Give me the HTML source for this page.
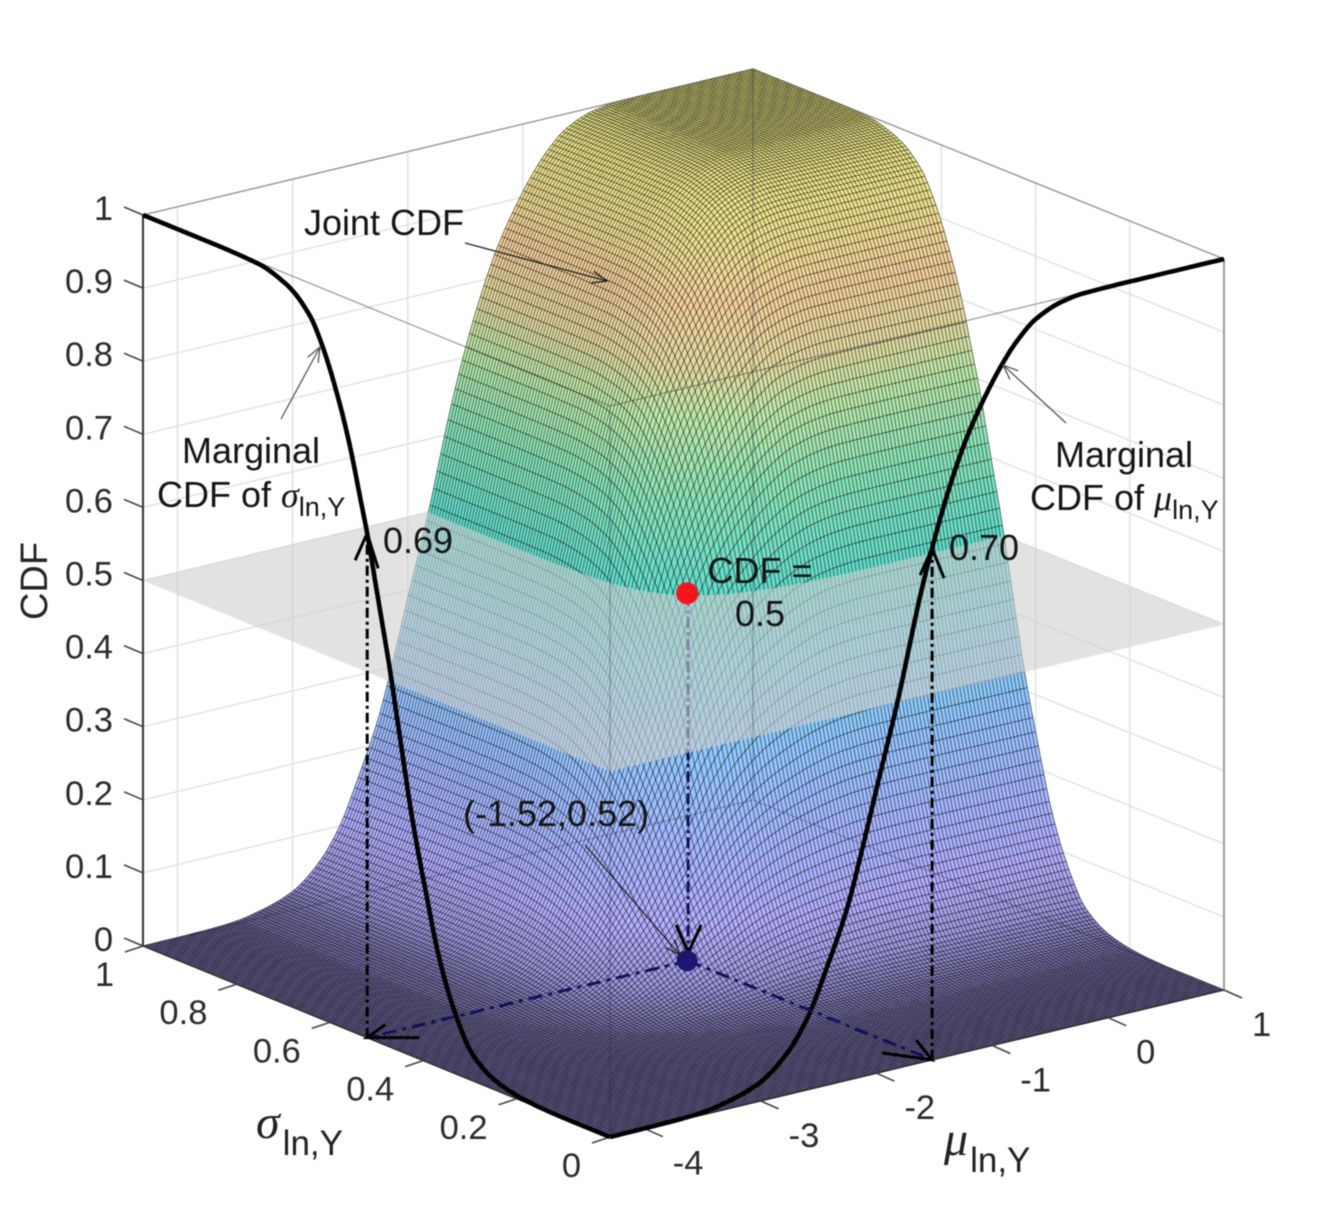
<!DOCTYPE html>
<html lang="en">
<head>
<meta charset="utf-8">
<title>Joint and marginal CDF surface</title>
<style>
html,body{margin:0;padding:0;background:#fff;}
svg{display:block;font-family:"Liberation Sans",sans-serif;filter:blur(0.45px);}
.tick{font-size:34.5px;fill:#2b2b2b;}
.note{font-size:36px;fill:#151515;}
.greek{font-family:"Liberation Serif",serif;font-style:italic;}
</style>
</head>
<body>
<svg id="chart" xmlns="http://www.w3.org/2000/svg" width="1324" height="1229" viewBox="0 0 1324 1229">
  <g id="walls"></g>
  <g id="lower"></g>
  <polygon id="plane" fill="#cfcfcf" fill-opacity="0.6"></polygon>
  <g id="upper"></g>
  <g id="box"></g>
  <g id="axes"></g>
  <g id="curves"></g>
  <g id="guides"></g>

  <text transform="translate(47,581) rotate(-90)" text-anchor="middle" font-size="38" fill="#262626">CDF</text>
  <text x="256" y="1138" fill="#222"><tspan class="greek" font-size="48">σ</tspan><tspan font-size="35" dx="3" dy="17">ln,Y</tspan></text>
  <text x="944" y="1155" fill="#222"><tspan class="greek" font-size="48">μ</tspan><tspan font-size="35" dx="2" dy="17">ln,Y</tspan></text>

  <text class="note" x="304" y="235">Joint CDF</text>
  <text class="note" x="251" y="463" text-anchor="middle">Marginal</text>
  <text class="note" x="157" y="507">CDF of <tspan class="greek">σ</tspan><tspan font-size="27" dy="9">ln,Y</tspan></text>
  <text class="note" x="1124" y="467" text-anchor="middle">Marginal</text>
  <text class="note" x="1030" y="510">CDF of <tspan class="greek">μ</tspan><tspan font-size="27" dy="9">ln,Y</tspan></text>
  <text class="note" x="383" y="553">0.69</text>
  <text class="note" x="949" y="560">0.70</text>
  <text class="note" x="760" y="583" text-anchor="middle">CDF =</text>
  <text class="note" x="760" y="626" text-anchor="middle">0.5</text>
  <text class="note" x="463" y="826">(-1.52,0.52)</text>
</svg>
<script>
// ---- data ----
const muGrid = [-4.3,-3.77,-3.52,-3.29,-3.01,-2.77,-2.59,-2.43,-2.25,-2.12,-1.99,-1.82,-1.62,-1.52,-1.36,-1.22,-1.08,-0.91,-0.79,-0.62,-0.39,-0.22,0.2,1];
const muMarginal = [0,0.001,0.003,0.0096,0.025,0.057,0.1,0.16,0.237,0.313,0.395,0.5,0.64,0.7,0.782,0.84,0.885,0.93,0.955,0.98,0.995,0.999,1,1];
const sigmaGrid = [0,0.1,0.15,0.193,0.242,0.293,0.336,0.368,0.392,0.422,0.45,0.471,0.499,0.52,0.535,0.557,0.585,0.617,0.642,0.692,0.756,0.85,1];
const sigmaMarginal = [0,0.0002,0.0012,0.004,0.012,0.035,0.09,0.155,0.225,0.32,0.43,0.515,0.615,0.69,0.735,0.8,0.865,0.923,0.955,0.985,0.998,1,1];
const muTicks = [-4,-3,-2,-1,0,1];
const sigmaTicks = [0,0.2,0.4,0.6,0.8,1];
const cdfTicks = [0,0.1,0.2,0.3,0.4,0.5,0.6,0.7,0.8,0.9,1];
const muTickLabels = ['-4','-3','-2','-1','0','1'];
const sigmaTickLabels = ['0','0.2','0.4','0.6','0.8','1'];
const cdfTickLabels = ['0','0.1','0.2','0.3','0.4','0.5','0.6','0.7','0.8','0.9','1'];
const medianMu = -1.52;
const medianSigma = 0.52;
const medianCdf = 0.5;
const medianMuMarginal = 0.70;
const medianSigmaMarginal = 0.69;
const dependence = 0.38;
const colorStops = [0,0.04,0.1,0.2,0.3,0.4,0.5,0.62,0.72,0.78,0.85,0.92,1];
const colorValues = ['#7c76ae','#a09ae0','#b4aeff','#a4b8ff','#92c8ff','#78d4ec','#62dccc','#8ae4b8','#c0e8a8','#e4d8a0','#f4cf9c','#eee090','#eeea8a'];

// ---- axis functions ----
const NS = 'http://www.w3.org/2000/svg';
const muMin = -4.3, muMax = 1, sigmaMin = 0, sigmaMax = 1;
const FRONT = [610,1137], RIGHT = [1224,990], LEFT = [143,946], BACK = [753,800], ZH = 731;
function project(mu, sigma, z){
  const a = (mu-muMin)/(muMax-muMin), b = (sigma-sigmaMin)/(sigmaMax-sigmaMin);
  const w0=(1-a)*(1-b), w1=a*(1-b), w2=(1-a)*b, w3=a*b;
  return [w0*FRONT[0]+w1*RIGHT[0]+w2*LEFT[0]+w3*BACK[0],
          w0*FRONT[1]+w1*RIGHT[1]+w2*LEFT[1]+w3*BACK[1]-ZH*z];
}
function pt(p){return p[0].toFixed(1)+' '+p[1].toFixed(1);}
function make(tag, attrs, parent){
  const el=document.createElementNS(NS,tag);
  for(const k in attrs) el.setAttribute(k,attrs[k]);
  parent.appendChild(el);
  return el;
}
function lineD(p,q){return 'M'+pt(p)+'L'+pt(q);}

// monotone cubic through the read-off points
function monotone(xs,ys){
  const n=xs.length,d=[],m=new Array(n);
  for(let i=0;i<n-1;i++) d.push((ys[i+1]-ys[i])/(xs[i+1]-xs[i]));
  m[0]=d[0];m[n-1]=d[n-2];
  for(let i=1;i<n-1;i++){
    if(d[i-1]*d[i]<=0) m[i]=0;
    else {
      const h0=xs[i]-xs[i-1],h1=xs[i+1]-xs[i];
      m[i]=(h0+h1)*3/((2*h1+h0)/d[i-1]+(h1+2*h0)/d[i]);
    }
  }
  return function(x){
    if(x<=xs[0])return ys[0];
    if(x>=xs[n-1])return ys[n-1];
    let i=0;while(x>xs[i+1])i++;
    const h=xs[i+1]-xs[i],t=(x-xs[i])/h,t2=t*t,t3=t2*t;
    return (2*t3-3*t2+1)*ys[i]+(t3-2*t2+t)*h*m[i]+(-2*t3+3*t2)*ys[i+1]+(t3-t2)*h*m[i+1];
  };
}
const Fmu = monotone(muGrid,muMarginal);
const Fsigma = monotone(sigmaGrid,sigmaMarginal);
function joint(mu,sigma){
  const u=Fmu(mu),v=Fsigma(sigma);
  return u*v*(1+dependence*(1-u)*(1-v));
}
function hexToRgb(h){return [1,3,5].map(i=>parseInt(h.substr(i,2),16));}
function colorFor(z){
  let i=0;while(i<colorStops.length-2&&z>colorStops[i+1])i++;
  const t=Math.min(1,Math.max(0,(z-colorStops[i])/(colorStops[i+1]-colorStops[i])));
  const c0=hexToRgb(colorValues[i]),c1=hexToRgb(colorValues[i+1]);
  return 'rgb('+c0.map((c,k)=>Math.round(c+(c1[k]-c)*t)).join(',')+')';
}

// ---- walls ----
const walls=document.getElementById('walls');
let gridD='';
cdfTicks.forEach(z=>{
  gridD+=lineD(project(muMin,sigmaMax,z),project(muMax,sigmaMax,z));
  gridD+=lineD(project(muMax,sigmaMax,z),project(muMax,sigmaMin,z));
});
muTicks.forEach(m=>{
  gridD+=lineD(project(m,sigmaMax,0),project(m,sigmaMax,1));
  gridD+=lineD(project(m,sigmaMin,0),project(m,sigmaMax,0));
});
sigmaTicks.forEach(s=>{
  gridD+=lineD(project(muMax,s,0),project(muMax,s,1));
  gridD+=lineD(project(muMin,s,0),project(muMax,s,0));
});
const gridPath=make('path',{d:gridD,fill:'none',stroke:'#e2e2e2','stroke-width':1.5},walls);



// ---- surface ----
const N=170, LEVELS=128;
const HALF=medianCdf;
const V=[];
for(let i=0;i<=N;i++){
  V.push([]);
  const mu=muMin+(muMax-muMin)*i/N;
  for(let j=0;j<=N;j++){
    const sigma=sigmaMin+(sigmaMax-sigmaMin)*j/N;
    const z=joint(mu,sigma);
    const p=project(mu,sigma,z);
    V[i].push({x:p[0],y:p[1],z:z,s:pt(p)});
  }
}
function cross(a,b){
  const t=(HALF-a.z)/(b.z-a.z);
  const q={x:a.x+(b.x-a.x)*t,y:a.y+(b.y-a.y)*t,z:HALF};
  q.s=pt([q.x,q.y]);
  return q;
}
const buckets=[{},{}];
function addPoly(layer,poly){
  if(poly.length<3)return;
  let sum=0;poly.forEach(v=>{sum+=v.z;});
  const lv=Math.round(sum/poly.length*(LEVELS-1));
  buckets[layer][lv]=(buckets[layer][lv]||'')+'M'+poly.map(v=>v.s).join('L')+'Z';
}
for(let i=0;i<N;i++){
  for(let j=0;j<N;j++){
    const q=[V[i][j],V[i+1][j],V[i+1][j+1],V[i][j+1]];
    const below=q.filter(v=>v.z<HALF).length;
    if(below===4){addPoly(0,q);continue;}
    if(below===0){addPoly(1,q);continue;}
    const lo=[],hi=[];
    for(let k=0;k<4;k++){
      const a=q[k],b=q[(k+1)%4];
      if(a.z<HALF)lo.push(a);else hi.push(a);
      if((a.z<HALF)!==(b.z<HALF)){const c=cross(a,b);lo.push(c);hi.push(c);}
    }
    addPoly(0,lo);addPoly(1,hi);
  }
}
const lowerG=document.getElementById('lower'),upperG=document.getElementById('upper');
[lowerG,upperG].forEach((g,layer)=>{
  for(const lv in buckets[layer]){
    const col=colorFor(lv/(LEVELS-1));
    const band=make('path',{d:buckets[layer][lv],fill:col,stroke:col,'stroke-width':0.5},g);
    
    
  }
});
// mesh lines
const meshD=[['',''],['','']];
function walk(dir,vertexAt){
  let prev=vertexAt(0),side=prev.z<HALF?0:1,run=[prev.s];
  for(let k=1;k<=N;k++){
    const v=vertexAt(k),sv=v.z<HALF?0:1;
    if(sv!==side){
      const c=cross(prev,v);
      run.push(c.s);
      meshD[side][dir]+='M'+run.join('L');
      run=[c.s];side=sv;
    }
    run.push(v.s);prev=v;
  }
  meshD[side][dir]+='M'+run.join('L');
}
for(let j=0;j<=N;j++) walk(0,k=>V[k][j]);
for(let i=0;i<=N;i++) walk(1,k=>V[i][k]);
[lowerG,upperG].forEach((g,layer)=>{
  [0,1].forEach(dir=>{
    const mesh=make('path',{d:meshD[layer][dir],fill:'none',stroke:'#000','stroke-opacity':0.68,'stroke-width':0.72},g);
    
    
  });
});

// guide from the median point down to the floor sits beneath the plane
const medianTop=project(medianMu,medianSigma,medianCdf);
const medianFloor=project(medianMu,medianSigma,0);
const downGuide=make('path',{d:lineD(medianTop,medianFloor),fill:'none',stroke:'#14105c','stroke-width':3,'stroke-dasharray':'11 4 3 4'},lowerG);



// plane
document.getElementById('plane').setAttribute('points',
  [project(muMin,sigmaMin,HALF),project(muMax,sigmaMin,HALF),project(muMax,sigmaMax,HALF),project(muMin,sigmaMax,HALF)]
  .map(p=>p[0].toFixed(1)+','+p[1].toFixed(1)).join(' '));

// ---- box ----
const box=document.getElementById('box');
const boxFaint=make('path',{d:
  lineD(project(muMax,sigmaMax,0),project(muMax,sigmaMax,1))+
  lineD(project(muMin,sigmaMax,0),project(muMax,sigmaMax,0))+
  lineD(project(muMax,sigmaMin,0),project(muMax,sigmaMax,0))+
  lineD(project(muMin,sigmaMin,0),project(muMin,sigmaMin,1)),
  fill:'none',stroke:'#1a1a40','stroke-opacity':0.3,'stroke-width':1.2},box);


const boxTop=make('path',{d:
  lineD(project(muMin,sigmaMax,1),project(muMax,sigmaMax,1))+
  lineD(project(muMax,sigmaMax,1),project(muMax,sigmaMin,1))+
  lineD(project(muMin,sigmaMax,1),project(muMin,sigmaMin,1))+
  lineD(project(muMin,sigmaMin,1),project(muMax,sigmaMin,1)),
  fill:'none',stroke:'#444','stroke-opacity':0.5,'stroke-width':1.3},box);


const rightEdge=make('path',{d:lineD(project(muMax,sigmaMin,0),project(muMax,sigmaMin,1)),fill:'none',stroke:'#8a8a8a','stroke-width':1.6},box);


const zAxisLine=make('path',{d:lineD(project(muMin,sigmaMax,0),project(muMin,sigmaMax,1)),fill:'none',stroke:'#333','stroke-width':2},box);


const floorEdges=make('path',{d:lineD(project(muMin,sigmaMax,0),project(muMin,sigmaMin,0))+lineD(project(muMin,sigmaMin,0),project(muMax,sigmaMin,0)),fill:'none',stroke:'#222','stroke-width':1.4},box);



// ---- ticks ----
const axes=document.getElementById('axes');
function tickLabel(str,x,y,anchor){
  const t=make('text',{class:'tick',x:x,y:y,'text-anchor':anchor},axes);
  t.textContent=str;
  return t;
}
cdfTicks.forEach((z,i)=>{
  const p=project(muMin,sigmaMax,z);
  const tk=make('path',{d:lineD(p,[p[0]-19,p[1]-8]),stroke:'#444','stroke-width':1.6,fill:'none'},axes);
  
  
  const lb=tickLabel(cdfTickLabels[i],113,p[1]+5,'end');
  
  
});
sigmaTicks.forEach((s,i)=>{
  const p=project(muMin,s,0);
  const tk=make('path',{d:lineD(p,[p[0]-18,p[1]+6]),stroke:'#444','stroke-width':1.6,fill:'none'},axes);
  
  
  const lb=tickLabel(sigmaTickLabels[i],p[0]-29,p[1]+40,'end');
  
  
});
muTicks.forEach((m,i)=>{
  const p=project(m,sigmaMin,0);
  const tk=make('path',{d:lineD(p,[p[0]+18,p[1]+8]),stroke:'#444','stroke-width':1.6,fill:'none'},axes);
  
  
  const lb=tickLabel(muTickLabels[i],p[0]+28,p[1]+46,'start');
  
  
});

// ---- marginal curves ----
const curves=document.getElementById('curves');
let dS='',dM='';
for(let i=0;i<=300;i++){
  const s=sigmaMin+(sigmaMax-sigmaMin)*i/300;
  dS+=(i?'L':'M')+pt(project(muMin,s,Fsigma(s)));
  const m=muMin+(muMax-muMin)*i/300;
  dM+=(i?'L':'M')+pt(project(m,sigmaMin,Fmu(m)));
}
const sigmaCurve=make('path',{d:dS,fill:'none',stroke:'#000','stroke-width':4.6,'stroke-linejoin':'round'},curves);


const muCurve=make('path',{d:dM,fill:'none',stroke:'#000','stroke-width':4.6,'stroke-linejoin':'round'},curves);



// ---- guides, markers, arrows ----
const guides=document.getElementById('guides');
const sFloor=project(muMin,medianSigma,0), sTop=project(muMin,medianSigma,medianSigmaMarginal);
const mFloor=project(medianMu,sigmaMin,0), mTop=project(medianMu,sigmaMin,medianMuMarginal);

const sigmaRise=make('path',{d:lineD(sFloor,sTop),fill:'none',stroke:'#000','stroke-width':3,'stroke-dasharray':'10 4 3 4'},guides);


const muRise=make('path',{d:lineD(mFloor,mTop),fill:'none',stroke:'#000','stroke-width':3,'stroke-dasharray':'10 4 3 4'},guides);


const floorToSigma=make('path',{d:lineD(medianFloor,sFloor),fill:'none',stroke:'#14105c','stroke-width':3,'stroke-dasharray':'14 6 4 6'},guides);


const floorToMu=make('path',{d:lineD(medianFloor,mFloor),fill:'none',stroke:'#14105c','stroke-width':3,'stroke-dasharray':'14 6 4 6'},guides);



function head(tip,o1,o2,width,color){
  return make('path',{d:'M'+(tip[0]+o1[0])+' '+(tip[1]+o1[1])+'L'+tip[0]+' '+tip[1]+'L'+(tip[0]+o2[0])+' '+(tip[1]+o2[1]),fill:'none',stroke:color,'stroke-width':width},guides);
}
let h;
h=head(sTop,[-12,27],[11,35],3,'#000');


h=head(mTop,[-12,27],[12,30],3,'#000');


h=head([medianFloor[0],medianFloor[1]-8],[-12,-28],[13,-28],3,'#000');


h=head(sFloor,[52,0],[18,-13],3,'#000');


h=head(mFloor,[-50,-7],[-16,-20],3,'#000');



const redDot=make('circle',{cx:medianTop[0]-1,cy:medianTop[1]-2,r:11,fill:'#f5141e'},guides);


const navyDot=make('circle',{cx:medianFloor[0]-1,cy:medianFloor[1],r:10.5,fill:'#1c1670'},guides);



function pointer(from,to,color,name){
  const dx=to[0]-from[0],dy=to[1]-from[1],len=Math.hypot(dx,dy),ux=dx/len,uy=dy/len,s=15,w=6;
  const d='M'+from[0]+' '+from[1]+'L'+to[0]+' '+to[1]+
    'M'+(to[0]-ux*s-uy*w)+' '+(to[1]-uy*s+ux*w)+'L'+to[0]+' '+to[1]+'L'+(to[0]-ux*s+uy*w)+' '+(to[1]-uy*s-ux*w);
  const p=make('path',{d:d,fill:'none',stroke:color,'stroke-width':1.3},guides);
  
  
}
pointer([465,243],[607,281],'#222','joint-cdf-pointer');
pointer([281,419],[320,347],'#555','sigma-marginal-pointer');
pointer([1066,423],[1003,365],'#555','mu-marginal-pointer');
pointer([585,845],[680,955],'#222','median-point-pointer');
</script>
</body>
</html>
